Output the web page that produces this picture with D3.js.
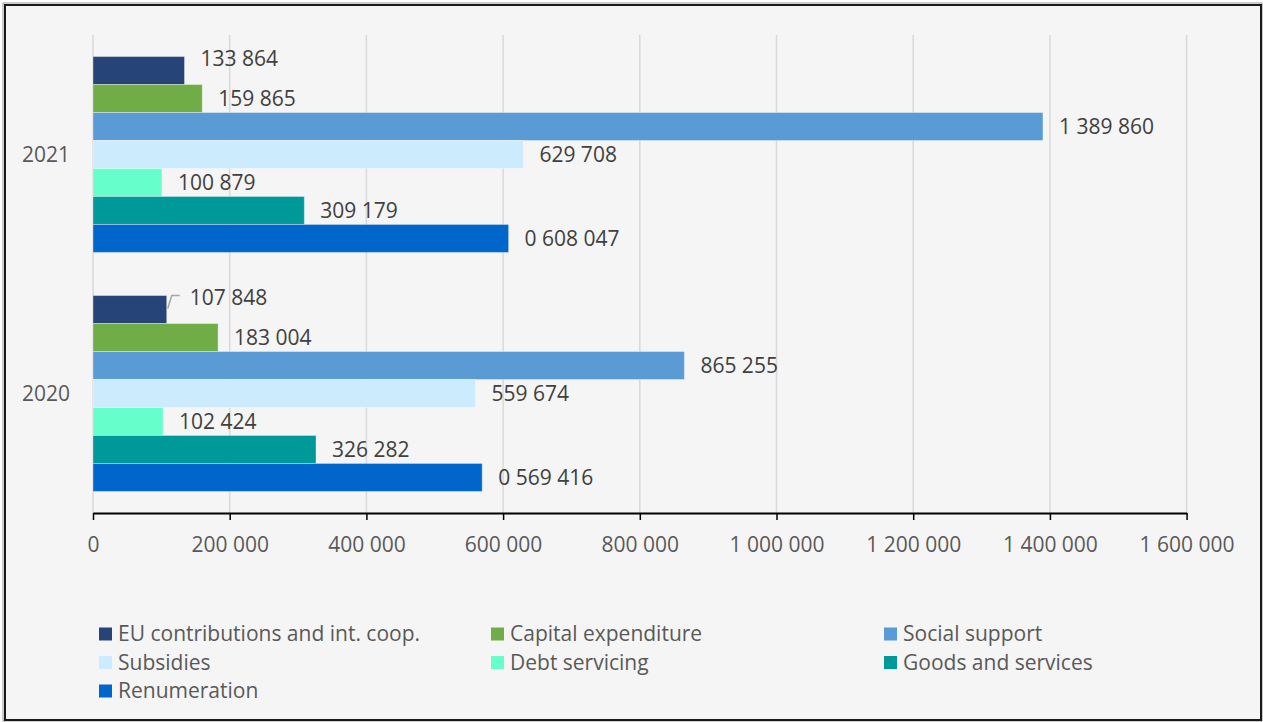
<!DOCTYPE html>
<html>
<head>
<meta charset="utf-8">
<script src="https://cdn.jsdelivr.net/npm/d3@7/dist/d3.min.js"></script>
<style>
  html, body { margin: 0; padding: 0; background: #ffffff; }
  svg { display: block; }
  text { font-family: "Open Sans", "Noto Sans", sans-serif; }
</style>
</head>
<body>
<svg id="chart" width="1263" height="722"></svg>
<script>
// ---- data ----
const categories = ["2021", "2020"];
const seriesNames = ["EU contributions and int. coop.", "Capital expenditure", "Social support",
                     "Subsidies", "Debt servicing", "Goods and services", "Renumeration"];
const seriesColors = ["#264478", "#70AD47", "#5B9BD5", "#CCEBFC", "#66FFCC", "#009999", "#0066CC"];
const values2021 = [133864, 159865, 1389860, 629708, 100879, 309179, 608047];
const values2020 = [107848, 183004, 865255, 559674, 102424, 326282, 569416];
const labels2021 = ["133 864", "159 865", "1 389 860", "629 708", "100 879", "309 179", "0 608 047"];
const labels2020 = ["107 848", "183 004", "865 255", "559 674", "102 424", "326 282", "0 569 416"];
const tickValues = [0, 200000, 400000, 600000, 800000, 1000000, 1200000, 1400000, 1600000];
const tickLabels = ["0", "200 000", "400 000", "600 000", "800 000", "1 000 000", "1 200 000", "1 400 000", "1 600 000"];

const valuesByCat = { "2021": values2021, "2020": values2020 };
const labelsByCat = { "2021": labels2021, "2020": labels2020 };

const svg = d3.select("#chart");
const W = 1263, H = 722;

// frame
svg.append("rect").attr("x", 0).attr("y", 0).attr("width", W).attr("height", H).attr("fill", "#ffffff");
svg.append("rect").attr("x", 3).attr("y", 3).attr("width", 1259).attr("height", 718)
  .attr("fill", "none").attr("stroke", "#9a9a9a").attr("stroke-width", 1);
svg.append("rect").attr("x", 5).attr("y", 5).attr("width", 1256).attr("height", 715)
  .attr("fill", "#f5f5f5").attr("stroke", "#1a1a1a").attr("stroke-width", 2);

const plot = { left: 93, right: 1186.6, top: 35, bottom: 513 };

const x = d3.scaleLinear().domain([0, 1600000]).range([plot.left, plot.right]);
const y = d3.scaleBand().domain(categories).range([plot.top, plot.bottom]).paddingInner(0).paddingOuter(0);
const inner = d3.scaleBand().domain(seriesNames).range([0, y.bandwidth()]).paddingInner(0).paddingOuter(0.77);

// gridlines
svg.append("g").selectAll("line").data(tickValues).join("line")
  .attr("x1", d => x(d)).attr("x2", d => x(d))
  .attr("y1", plot.top).attr("y2", plot.bottom)
  .attr("stroke", "#d9d9d9").attr("stroke-width", 1.5);

// bars
const groups = svg.append("g").selectAll("g").data(categories).join("g")
  .attr("transform", c => `translate(0,${y(c)})`);

const rows = c => seriesNames.map((s, i) => ({ c, s, i, v: valuesByCat[c][i], label: labelsByCat[c][i] }));

groups.selectAll("rect").data(rows)
  .join("rect")
  .attr("x", x(0))
  .attr("y", d => inner(d.s))
  .attr("width", d => x(d.v) - x(0))
  .attr("height", inner.bandwidth())
  .attr("fill", d => seriesColors[d.i])
  .attr("stroke", "rgba(255,255,255,0.35)")
  .attr("stroke-width", 1);

// data labels
groups.selectAll("text").data(rows)
  .join("text")
  .attr("x", d => x(d.v) + (d.i === 0 && d.c === "2020" ? 23 : 16))
  .attr("y", d => d.i === 0 ? inner(d.s) + 2 : inner(d.s) + inner.bandwidth() / 2)
  .attr("dy", "0.35em")
  .attr("font-size", "21px")
  .attr("fill", "#404040")
  .text(d => d.label);

// leader line for 2020 EU label
{
  const i = 0, c = "2020";
  const bx = x(valuesByCat[c][i]);
  const by = y(c) + inner(seriesNames[i]);
  svg.append("path")
    .attr("d", `M${bx + 1},${by + 13} L${bx + 5},${by} L${bx + 13},${by}`)
    .attr("fill", "none").attr("stroke", "#a6a6a6").attr("stroke-width", 1.5);
}

// category labels
svg.append("g").selectAll("text").data(categories).join("text")
  .attr("x", 70).attr("y", c => y(c) + y.bandwidth() / 2)
  .attr("dy", "0.35em").attr("text-anchor", "end")
  .attr("font-size", "21px").attr("fill", "#595959")
  .text(c => c);

// x axis
const axis = d3.axisBottom(x).tickValues(tickValues).tickSize(7).tickSizeOuter(0)
  .tickFormat((d, i) => tickLabels[i]);
const ax = svg.append("g").attr("transform", `translate(0,${plot.bottom})`).call(axis);
ax.select(".domain").attr("stroke", "#000").attr("stroke-width", 2);
ax.selectAll(".tick line").attr("stroke", "#000").attr("stroke-width", 1.5);
ax.selectAll(".tick text").attr("font-size", "21px").attr("fill", "#595959")
  .attr("font-family", "'Open Sans', 'Noto Sans', sans-serif").attr("y", 39).attr("dy", "0");

// legend
const legendCols = [99, 491, 884];
const legendRows = [634, 662.5, 691];
const leg = svg.append("g").selectAll("g").data(seriesNames).join("g")
  .attr("transform", (s, i) => `translate(${legendCols[i % 3]},${legendRows[Math.floor(i / 3)]})`);
leg.append("rect").attr("x", 0).attr("y", -6.5).attr("width", 13).attr("height", 13)
  .attr("fill", (s, i) => seriesColors[i]);
leg.append("text").attr("x", 19).attr("y", 0).attr("dy", "0.35em")
  .attr("font-size", "21px").attr("fill", "#595959")
  .text(s => s);
</script>
</body>
</html>
